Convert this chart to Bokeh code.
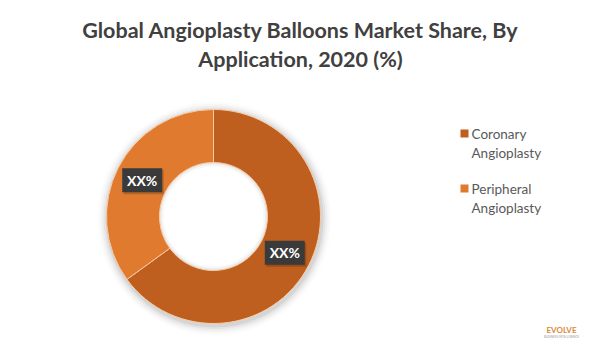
import math
from bokeh.plotting import figure
from bokeh.models import Range1d, ColumnDataSource
from bokeh.core.properties import value
from bokeh.embed import file_html
from bokeh.resources import INLINE

# ---- data ----
categories = ["Coronary Angioplasty", "Peripheral Angioplasty"]
legend_lines = [["Coronary", "Angioplasty"], ["Peripheral", "Angioplasty"]]
shares = [65, 35]
labels = ["XX%", "XX%"]
colors = ["#BE5F1F", "#DF7A2E"]
title_lines = ["Global Angioplasty Balloons Market Share, By", "Application, 2020 (%)"]

W, H = 584, 344
p = figure(width=W, height=H, output_backend="svg", toolbar_location=None,
           x_range=Range1d(0, W), y_range=Range1d(360 - H, 360),
           min_border=0, outline_line_color=None)
p.axis.visible = False
p.grid.visible = False
p.background_fill_color = "white"
p.border_fill_color = "white"

def Y(img_y):
    return 360 - img_y

cx, cy = 213, Y(216)
r_out, r_in = 107, 54

# soft shadow
for i, a in enumerate([0.06, 0.045, 0.03, 0.02, 0.012]):
    p.annulus(x=[cx + 1], y=[cy - 2], inner_radius=r_out - 2, outer_radius=r_out + 2 + i * 2,
              inner_radius_units="screen", outer_radius_units="screen",
              fill_color="#000000", fill_alpha=a, line_color=None)
for i, a in enumerate([0.05, 0.03]):
    p.annulus(x=[cx], y=[cy], inner_radius=r_in - 2 - i * 2, outer_radius=r_in + 1,
              inner_radius_units="screen", outer_radius_units="screen",
              fill_color="#000000", fill_alpha=a, line_color=None)

total = sum(shares)
starts, ends, mids = [], [], []
acc = 0.0
for s in shares:
    a0 = math.pi / 2 - 2 * math.pi * acc / total
    acc += s
    a1 = math.pi / 2 - 2 * math.pi * acc / total
    starts.append(a0)
    ends.append(a1)
    mids.append((a0 + a1) / 2)

src = ColumnDataSource(dict(x=[cx] * len(shares), y=[cy] * len(shares),
                            start=starts, end=ends, color=colors))
p.annular_wedge(x="x", y="y", inner_radius=r_in, outer_radius=r_out,
                inner_radius_units="screen", outer_radius_units="screen",
                start_angle="start", end_angle="end", direction="clock",
                fill_color="color", line_color="#F7CBA5", line_width=1, source=src)

# labels
r_lab = 80
lx = [cx + r_lab * math.cos(m) for m in mids]
ly = [cy + r_lab * math.sin(m) for m in mids]
p.rect(x=[v + 1.5 for v in lx], y=[v - 2 for v in ly], width=40, height=24,
       width_units="screen", height_units="screen",
       fill_color="#000000", fill_alpha=0.18, line_color=None)
p.rect(x=lx, y=ly, width=40, height=24, width_units="screen", height_units="screen",
       fill_color="#3A3A3A", line_color=None)
p.text(x=lx, y=ly, text=labels, text_color="white", text_font=value("Lato"),
       text_font_style="bold", text_font_size="14px", text_align="center",
       text_baseline="middle")

# title
p.text(x=[300, 300], y=[Y(29), Y(58)], text=title_lines, text_color="#404040",
       text_font=value("Lato"), text_font_style="bold", text_font_size="21.5px",
       text_align="center", text_baseline="middle")

# legend
leg_y0 = [133, 188]
p.rect(x=[464] * 2, y=[Y(v) for v in leg_y0], width=8, height=8,
       width_units="screen", height_units="screen", fill_color=colors, line_color=None)
for lines, y0 in zip(legend_lines, leg_y0):
    p.text(x=[471, 471], y=[Y(y0), Y(y0 + 19)], text=lines, text_color="#595959",
           text_font=value("Lato"), text_font_size="13.5px", text_align="left",
           text_baseline="middle")

# logo
p.text(x=[561], y=[Y(329)], text=["EVOLVE"], text_color="#D98A3A",
       text_font=value("Lato"), text_font_style="bold", text_font_size="8px",
       text_align="center", text_baseline="middle")
p.text(x=[561], y=[Y(336)], text=["BUSINESS INTELLIGENCE"], text_color="#9A9A9A",
       text_font=value("Lato"), text_font_size="3px",
       text_align="center", text_baseline="middle")

open("out.html", "w").write(file_html(p, INLINE))
